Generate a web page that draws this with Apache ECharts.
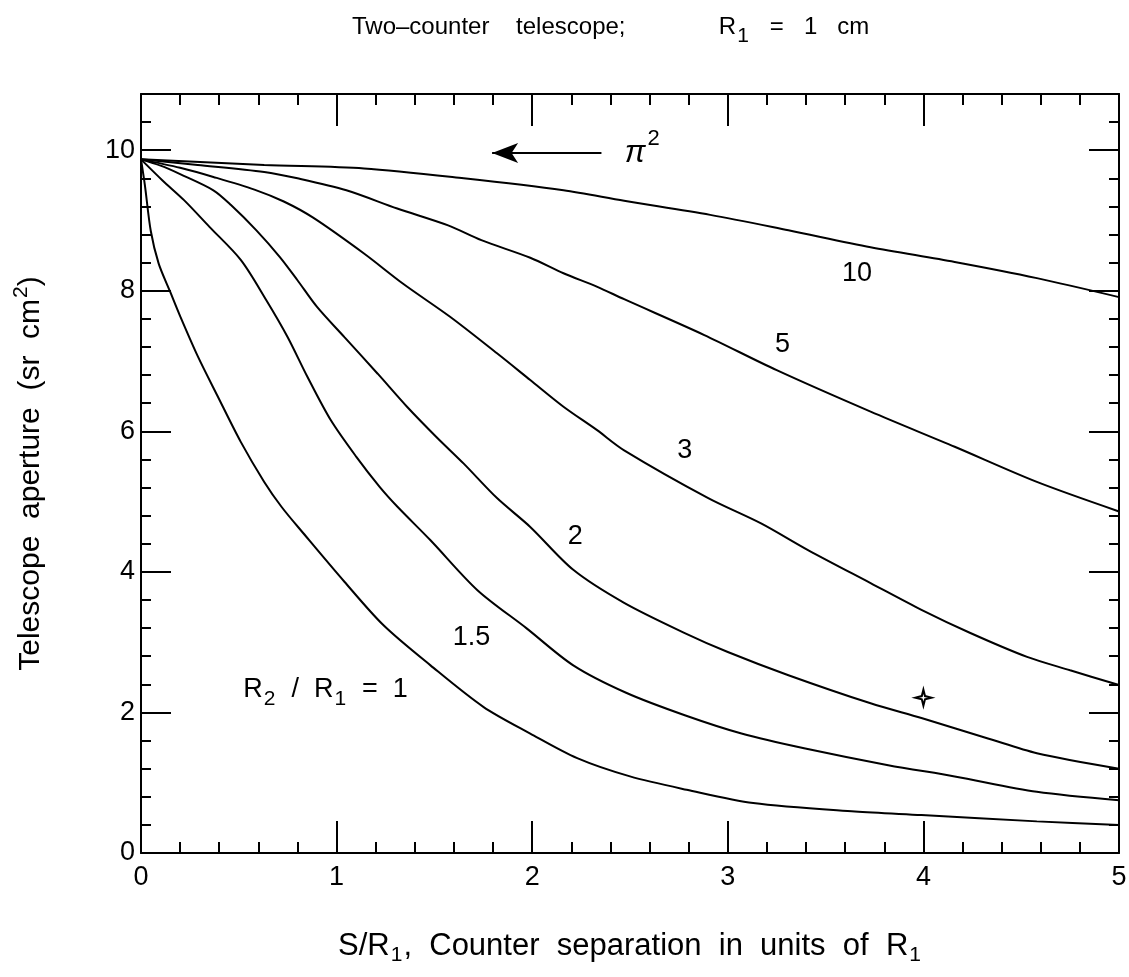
<!DOCTYPE html>
<html>
<head>
<meta charset="utf-8">
<title>Two-counter telescope</title>
<script src="https://cdn.jsdelivr.net/npm/echarts@6/dist/echarts.min.js"></script>
<style>
  html, body { margin: 0; padding: 0; background: #fff; }
  #chart { width: 1129px; height: 977px; }
</style>
</head>
<body>
<div id="chart"></div>
<script>
const FONT = '"Liberation Sans", Arial, Helvetica, sans-serif';

// S/R1 (x) and telescope aperture (y) for each R2/R1 ratio
const xR1 = [0, 0.02, 0.05, 0.09, 0.15, 0.2, 0.29, 0.39, 0.51, 0.63, 0.72, 0.83, 1.04, 1.24, 1.48, 1.75, 1.99, 2.23, 2.5, 2.79, 3.13, 3.65, 3.99, 4.58, 5];
const yR1 = [9.87, 9.5, 8.85, 8.39, 7.98, 7.64, 7.07, 6.51, 5.85, 5.28, 4.92, 4.55, 3.86, 3.24, 2.67, 2.08, 1.7, 1.35, 1.09, 0.9, 0.71, 0.59, 0.54, 0.45, 0.4];

const xR15 = [0, 0.11, 0.22, 0.35, 0.51, 0.64, 0.75, 0.85, 0.97, 1.1, 1.22, 1.31, 1.48, 1.72, 1.97, 2.21, 2.48, 2.78, 3.07, 3.39, 3.82, 4.16, 4.58, 5];
const yR15 = [9.87, 9.57, 9.29, 8.91, 8.44, 7.87, 7.34, 6.78, 6.16, 5.64, 5.21, 4.93, 4.45, 3.74, 3.2, 2.67, 2.28, 1.96, 1.7, 1.49, 1.25, 1.09, 0.87, 0.75];

const xR2 = [0, 0.1, 0.2, 0.37, 0.46, 0.59, 0.71, 0.8, 0.9, 1.04, 1.21, 1.36, 1.51, 1.65, 1.82, 1.99, 2.21, 2.47, 2.78, 3.0, 3.31, 3.73, 3.99, 4.33, 4.58, 5];
const yR2 = [9.87, 9.78, 9.66, 9.43, 9.22, 8.86, 8.48, 8.15, 7.77, 7.34, 6.82, 6.35, 5.92, 5.54, 5.05, 4.64, 4.03, 3.56, 3.13, 2.86, 2.53, 2.13, 1.92, 1.63, 1.42, 1.2];

const xR3 = [0, 0.2, 0.37, 0.58, 0.73, 0.88, 1.14, 1.34, 1.58, 1.82, 1.99, 2.16, 2.33, 2.47, 2.9, 3.17, 3.41, 3.73, 3.99, 4.24, 4.53, 4.75, 5];
const yR3 = [9.87, 9.75, 9.62, 9.44, 9.27, 9.04, 8.53, 8.1, 7.63, 7.11, 6.73, 6.35, 6.02, 5.73, 5.05, 4.69, 4.31, 3.84, 3.46, 3.13, 2.79, 2.6, 2.39];

const xR5 = [0, 0.29, 0.63, 0.8, 1.05, 1.31, 1.57, 1.74, 1.99, 2.16, 2.33, 2.47, 2.88, 3.25, 3.73, 4.16, 4.58, 5];
const yR5 = [9.87, 9.79, 9.69, 9.6, 9.43, 9.17, 8.93, 8.72, 8.47, 8.25, 8.06, 7.88, 7.37, 6.87, 6.28, 5.78, 5.28, 4.86];

const xR10 = [0, 0.63, 1.14, 1.65, 2.16, 2.47, 2.91, 3.31, 3.73, 4.16, 4.58, 5];
const yR10 = [9.87, 9.79, 9.74, 9.6, 9.43, 9.28, 9.08, 8.86, 8.62, 8.41, 8.18, 7.91];

// curve labels (R2/R1 values) and where they sit
const labelText = ['10', '5', '3', '2', '1.5'];
const labelX = [3.66, 3.28, 2.78, 2.22, 1.69];
const labelY = [8.25, 7.24, 5.73, 4.5, 3.06];
const ratioLabelPos = [0.52, 2.32];

// pi^2 arrow and the small star mark
const arrowFrom = [2.354, 9.96];
const arrowTo = [1.795, 9.96];
const piLabelPos = [2.47, 9.96];
const starPoint = [4.0, 2.21];

// axis ticks
const xMajor = 1, xMinor = 0.2, yMajor = 2, yMinor = 0.4;
const xMax = 5, yMax = 10.8;

const rich = {
  sub: { fontFamily: FONT, fontSize: 21, color: '#000', padding: [19, 1, 0, 1] },
  sup: { fontFamily: FONT, fontSize: 21, color: '#000', padding: [0, 0, 18, 1] },
  pi: { fontFamily: FONT, fontSize: 31, color: '#000', fontStyle: 'italic' },
  pisup: { fontFamily: FONT, fontSize: 22, color: '#000', padding: [0, 0, 28, 2] }
};

function pairs(xs, ys) {
  return xs.map((x, i) => [x, ys[i]]);
}

function curve(xs, ys, extra) {
  return Object.assign({
    type: 'line',
    data: pairs(xs, ys),
    showSymbol: false,
    smooth: 0.3,
    silent: true,
    lineStyle: { color: '#000', width: 2 }
  }, extra || {});
}

function xAx(pos, step, len, main) {
  return {
    type: 'value', position: pos, min: 0, max: xMax, interval: step,
    axisLine: { show: main, onZero: false, lineStyle: { color: '#000', width: 2 } },
    axisTick: { show: true, inside: true, length: len, lineStyle: { color: '#000', width: 2 } },
    axisLabel: {
      show: main && pos === 'bottom', margin: 11, fontFamily: FONT, fontSize: 27, color: '#000'
    },
    splitLine: { show: false },
    name: main && pos === 'bottom' ? 'S/R{sub|1},  Counter  separation  in  units  of  R{sub|1}' : '',
    nameLocation: 'middle',
    nameGap: 73,
    nameTextStyle: { fontFamily: FONT, fontSize: 31, color: '#000', rich: rich }
  };
}

function yAx(pos, step, len, main) {
  return {
    type: 'value', position: pos, min: 0, max: yMax, interval: step,
    axisLine: { show: main, onZero: false, lineStyle: { color: '#000', width: 2 } },
    axisTick: { show: true, inside: true, length: len, lineStyle: { color: '#000', width: 2 } },
    axisLabel: {
      show: main && pos === 'left', margin: 6, fontFamily: FONT, fontSize: 27, color: '#000',
      formatter: v => (Math.abs(v / yMajor - Math.round(v / yMajor)) < 1e-6 ? String(v) : '')
    },
    splitLine: { show: false },
    name: main && pos === 'left' ? 'Telescope  aperture  (sr  cm{sup|2})' : '',
    nameLocation: 'middle',
    nameGap: 91,
    nameTextStyle: { fontFamily: FONT, fontSize: 30, color: '#000', rich: rich }
  };
}

const chart = echarts.init(document.getElementById('chart'), null, { renderer: 'canvas' });

const option = {
  backgroundColor: '#fff',
  animation: false,
  title: {
    text: 'Two–counter    telescope;              R{sub|1}   =   1   cm',
    left: 347,
    top: 2,
    textStyle: { fontFamily: FONT, fontSize: 24, fontWeight: 'normal', color: '#000', rich: rich }
  },
  grid: { left: 141, right: 10, top: 94, bottom: 124, outerBoundsMode: 'none' },
  xAxis: [
    xAx('bottom', xMajor, 32, true),
    xAx('bottom', xMinor, 11, false),
    xAx('top', xMajor, 32, true),
    xAx('top', xMinor, 11, false)
  ],
  yAxis: [
    yAx('left', yMajor, 30, true),
    yAx('left', yMinor, 10, false),
    yAx('right', yMajor, 30, true),
    yAx('right', yMinor, 10, false)
  ],
  series: [
    curve(xR1, yR1),
    curve(xR15, yR15),
    curve(xR2, yR2),
    curve(xR3, yR3),
    curve(xR5, yR5),
    curve(xR10, yR10, {
      markLine: {
        silent: true,
        animation: false,
        symbol: ['none', 'arrow'],
        symbolSize: [15, 26],
        label: { show: false },
        lineStyle: { color: '#000', width: 2, type: 'solid' },
        emphasis: { disabled: true },
        data: [[{ coord: arrowFrom }, { coord: arrowTo }]]
      }
    }),
    {
      type: 'scatter',
      silent: true,
      symbolSize: 1,
      itemStyle: { color: 'rgba(0,0,0,0)', opacity: 1 },
      data: labelX.map((x, i) => ({ value: [x, labelY[i]], name: labelText[i] })),
      label: {
        show: true, position: 'inside', formatter: p => p.name,
        fontFamily: FONT, fontSize: 27, color: '#000'
      }
    },
    {
      type: 'scatter',
      silent: true,
      symbolSize: 1,
      itemStyle: { color: 'rgba(0,0,0,0)', opacity: 1 },
      data: [
        { value: ratioLabelPos, name: 'R{sub|2}  /  R{sub|1}  =  1' },
        { value: piLabelPos, name: '{pi|π}{pisup|2}' }
      ],
      label: {
        show: true, position: 'right', distance: 0, formatter: p => p.name,
        fontFamily: FONT, fontSize: 27, color: '#000', rich: rich
      }
    },
    {
      type: 'scatter',
      silent: true,
      symbol: 'path://M0,-10 L2,-2 L10,0 L2,2 L0,10 L-2,2 L-10,0 L-2,-2 Z',
      symbolSize: 16,
      itemStyle: { color: '#fff', borderColor: '#000', borderWidth: 2, opacity: 1 },
      data: [starPoint]
    }
  ]
};

chart.setOption(option);
</script>
</body>
</html>
